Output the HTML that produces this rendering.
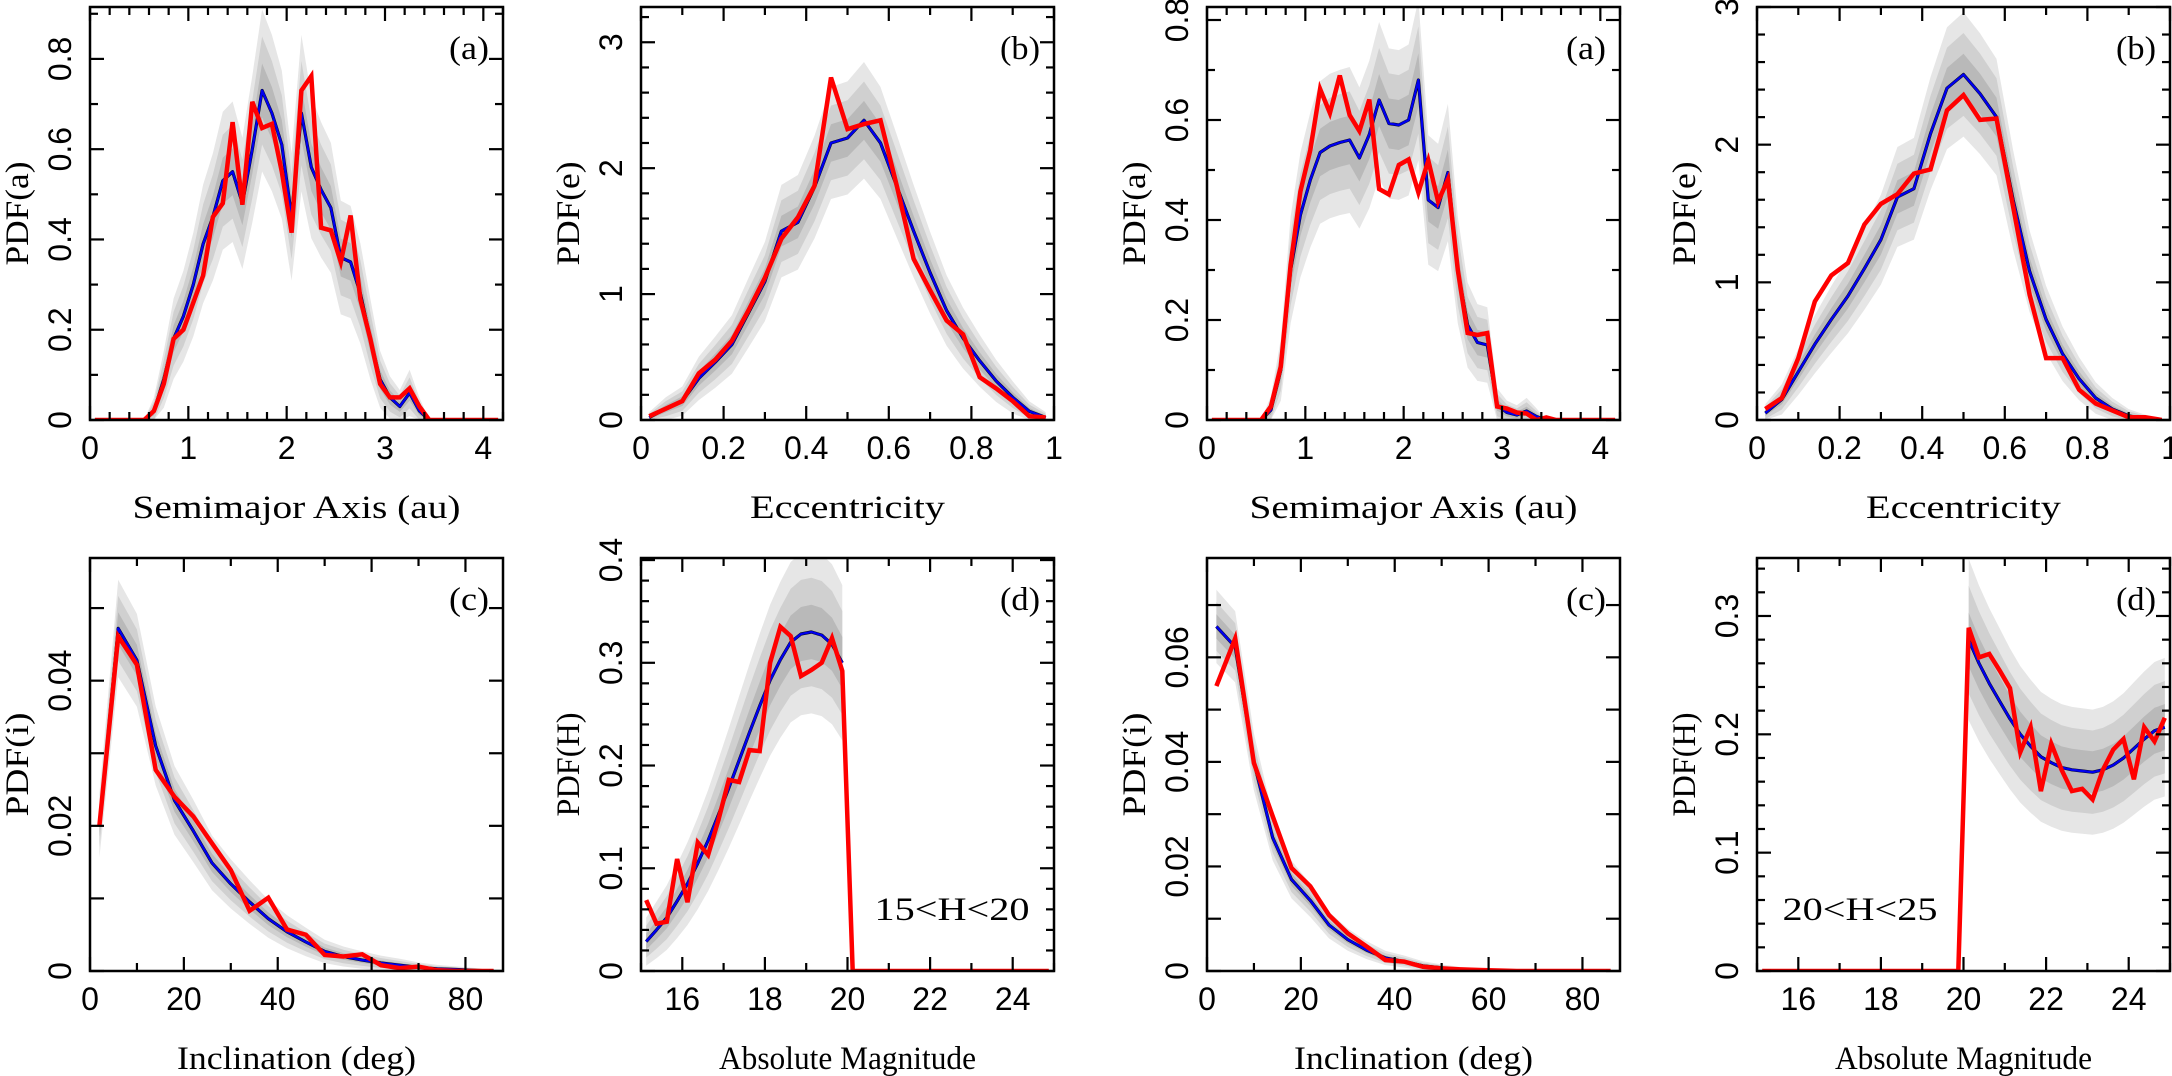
<!DOCTYPE html>
<html><head><meta charset="utf-8">
<style>
html,body{margin:0;padding:0;background:#fff;}
svg{display:block;}
.tk{font-family:"Liberation Sans",sans-serif;font-size:32px;fill:#000;}
.ttl{font-family:"Liberation Serif",serif;font-size:33px;fill:#000;}
</style></head>
<body>
<svg id="fig" width="2172" height="1076" viewBox="0 0 2172 1076" xmlns="http://www.w3.org/2000/svg"></svg>
<script>
// ---- data ----
const p1Red=[0,0,0,0,0,0,0.02,0.08,0.18,0.2,0.26,0.32,0.45,0.48,0.66,0.477,0.705,0.647,0.656,0.55,0.415,0.73,0.762,0.426,0.42,0.35,0.453,0.267,0.18,0.08,0.05,0.05,0.07,0.03,0,0,0,0,0,0,0,0];
const p1Blue=[0,0,0,0,0,0,0.02,0.09,0.18,0.23,0.3,0.39,0.45,0.53,0.55,0.48,0.6,0.73,0.68,0.61,0.45,0.68,0.56,0.51,0.47,0.36,0.35,0.28,0.18,0.09,0.05,0.03,0.06,0.02,0,0,0,0,0,0,0,0];
const p2Red=[0.03,0.09,0.15,0.37,0.48,0.63,0.87,1.13,1.44,1.61,1.86,2.72,2.31,2.35,2.38,1.85,1.28,1.03,0.79,0.68,0.34,0.25,0.15,0.03,0.02];
const p2Blue=[0.02,0.09,0.15,0.33,0.46,0.6,0.85,1.1,1.5,1.57,1.85,2.2,2.24,2.38,2.2,1.85,1.5,1.17,0.87,0.65,0.47,0.31,0.18,0.07,0.02];
const p3Red=[0,0,0,0,0,0,0.027,0.107,0.31,0.457,0.54,0.662,0.614,0.689,0.61,0.578,0.641,0.462,0.451,0.51,0.521,0.455,0.519,0.437,0.481,0.3,0.174,0.17,0.174,0.027,0.023,0.015,0.013,0,0.005,0,0,0,0,0,0,0];
const p3Blue=[0,0,0,0,0,0,0.02,0.1,0.3,0.41,0.48,0.535,0.548,0.555,0.56,0.524,0.571,0.64,0.593,0.59,0.6,0.68,0.44,0.425,0.495,0.3,0.19,0.155,0.15,0.03,0.015,0.01,0.018,0.007,0,0,0,0,0,0,0,0];
const p4Red=[0.08,0.16,0.45,0.86,1.05,1.14,1.42,1.57,1.64,1.79,1.82,2.25,2.36,2.18,2.19,1.55,0.91,0.45,0.45,0.22,0.12,0.07,0.02,0.02,0];
const p4Blue=[0.05,0.15,0.35,0.55,0.73,0.9,1.1,1.31,1.62,1.68,2.08,2.41,2.51,2.37,2.2,1.6,1.08,0.73,0.48,0.3,0.16,0.08,0.03,0.01,0];
const p5Red=[0.02,0.0461,0.0422,0.0277,0.024,0.0213,0.0176,0.0139,0.0083,0.0101,0.0057,0.005,0.0022,0.002,0.0023,0.0008,0.0004,0.0006,0.0001,0,0,0];
const p5Blue=[0.02,0.0472,0.0428,0.031,0.0235,0.0193,0.0149,0.012,0.0095,0.0072,0.0054,0.004,0.0027,0.002,0.0015,0.0011,0.0008,0.0005,0.0003,0.0002,0.0001,0];
const p6Red=[0.069,0.046,0.048,0.109,0.067,0.125,0.113,0.147,0.186,0.184,0.215,0.214,0.3,0.335,0.326,0.287,0.293,0.3,0.324,0.292,0,0,0,0,0,0,0,0,0,0,0,0,0,0,0,0,0,0,0,0];
const p6Blue=[0.0286,0.04,0.052,0.068,0.085,0.105,0.127,0.152,0.178,0.205,0.232,0.258,0.283,0.303,0.32,0.328,0.33,0.327,0.318,0.3,null,null,null,null,null,null,null,null,null,null,null,null,null,null,null,null,null,null,null,null];
const p7Red=[0.0545,0.0636,0.0398,0.0296,0.0197,0.0162,0.0107,0.0072,0.0047,0.0021,0.0018,0.0008,0.0005,0.0003,0.0002,0.0001,0,0,0,0,0,0];
const p7Blue=[0.0659,0.062,0.04,0.0255,0.0175,0.0135,0.0088,0.006,0.004,0.0025,0.0018,0.001,0.0006,0.0003,0.0002,0.0001,0,0,0,0,0,0];
const p8Red=[0,0,0,0,0,0,0,0,0,0,0,0,0,0,0,0,0,0,0,0,0.29,0.265,0.268,0.254,0.239,0.185,0.206,0.152,0.192,0.17,0.152,0.154,0.145,0.17,0.187,0.196,0.162,0.206,0.194,0.214];
const p8Blue=[null,null,null,null,null,null,null,null,null,null,null,null,null,null,null,null,null,null,null,null,0.28,0.26,0.243,0.228,0.213,0.2,0.19,0.181,0.176,0.172,0.17,0.169,0.168,0.17,0.174,0.18,0.188,0.196,0.203,0.206];
// bin centres (categories)
const aBins=[];for(let i=0;i<42;i++)aBins.push(0.05+0.1*i);
const eBins=[];for(let i=0;i<25;i++)eBins.push(0.02+0.04*i);
const iBins=[];for(let i=0;i<22;i++)iBins.push(2+4*i);
const hBins=[];for(let i=0;i<40;i++)hBins.push(15.125+0.25*i);
// tick labels
const aTicks=[0,1,2,3,4];
const eTicks=[0,0.2,0.4,0.6,0.8,1];
const iTicks=[0,20,40,60,80];
const hTicks=[16,18,20,22,24];
const pdfA1Ticks=[0,0.2,0.4,0.6,0.8];
const pdfETicks=[0,1,2,3];
const pdfI1Ticks=[0,0.02,0.04];
const pdfI2Ticks=[0,0.02,0.04,0.06];
const pdfH1Ticks=[0,0.1,0.2,0.3,0.4];
const pdfH2Ticks=[0,0.1,0.2,0.3];

const titleLen={'Semimajor Axis (au)':328,'Eccentricity':195,'Inclination (deg)':239,'Absolute Magnitude':257};

const panels=[
 {n:'a-left',L:90,T:7,xr:[0,4.2],yr:[0,0.915],x:aBins,red:p1Red,blue:p1Blue,c:0.07,xmaj:1,xmin:0.2,xl:aTicks,ymaj:0.2,ymin:0.1,yl:pdfA1Ticks,xt:'Semimajor Axis (au)',yt:'PDF(a)',tag:'(a)'},
 {n:'e-left',L:641,T:7,xr:[0,1],yr:[0,3.28],x:eBins,red:p2Red,blue:p2Blue,c:0.1,xmaj:0.2,xmin:0.1,xl:eTicks,ymaj:1,ymin:0.2,yl:pdfETicks,xt:'Eccentricity',yt:'PDF(e)',tag:'(b)'},
 {n:'a-right',L:1207,T:7,xr:[0,4.2],yr:[0,0.826],x:aBins,red:p3Red,blue:p3Blue,c:0.065,xmaj:1,xmin:0.2,xl:aTicks,ymaj:0.2,ymin:0.1,yl:pdfA1Ticks,xt:'Semimajor Axis (au)',yt:'PDF(a)',tag:'(a)'},
 {n:'e-right',L:1757,T:7,xr:[0,1],yr:[0,3.0],x:eBins,red:p4Red,blue:p4Blue,c:0.095,xmaj:0.2,xmin:0.1,xl:eTicks,ymaj:1,ymin:0.2,yl:pdfETicks,xt:'Eccentricity',yt:'PDF(e)',tag:'(b)'},
 {n:'i-left',L:90,T:558,xr:[0,88],yr:[0,0.0569],x:iBins,red:p5Red,blue:p5Blue,c:0.0103,xmaj:20,xmin:10,xl:iTicks,ymaj:0.01,ymin:0.01,yl:pdfI1Ticks,xt:'Inclination (deg)',yt:'PDF(i)',tag:'(c)'},
 {n:'h-left',L:641,T:558,xr:[15,25],yr:[0,0.402],x:hBins,red:p6Red,blue:p6Blue,c:0.046,xmaj:2,xmin:1,xl:hTicks,ymaj:0.1,ymin:0.02,yl:pdfH1Ticks,xt:'Absolute Magnitude',yt:'PDF(H)',tag:'(d)',note:'15<H<20',nx:952},
 {n:'i-right',L:1207,T:558,xr:[0,88],yr:[0,0.079],x:iBins,red:p7Red,blue:p7Blue,c:0.0091,xmaj:20,xmin:10,xl:iTicks,ymaj:0.01,ymin:0.01,yl:pdfI2Ticks,xt:'Inclination (deg)',yt:'PDF(i)',tag:'(c)'},
 {n:'h-right',L:1757,T:558,xr:[15,25],yr:[0,0.349],x:hBins,red:p8Red,blue:p8Blue,c:0.043,xmaj:2,xmin:1,xl:hTicks,ymaj:0.1,ymin:0.02,yl:pdfH2Ticks,xt:'Absolute Magnitude',yt:'PDF(H)',tag:'(d)',note:'20<H<25',nx:1860}
];
const W=413,H=413;
const NS='http://www.w3.org/2000/svg';
const svg=document.getElementById('fig');
function mk(tag,attrs,parent){const e=document.createElementNS(NS,tag);for(const k in attrs)e.setAttribute(k,attrs[k]);(parent||svg).appendChild(e);return e;}
function fmt(v){return String(+v.toFixed(4));}
panels.forEach((p,pi)=>{
 const g=mk('g',{});
 
 
 const sx=v=>p.L+(v-p.xr[0])/(p.xr[1]-p.xr[0])*W;
 const sy=v=>p.T+H-(v-p.yr[0])/(p.yr[1]-p.yr[0])*H;
 const cp=mk('clipPath',{id:'cp'+pi},g);
 mk('rect',{x:p.L,y:p.T,width:W,height:H},cp);
 const inner=mk('g',{'clip-path':'url(#cp'+pi+')'},g);
 const cols=['#e6e6e6','#d0d0d0','#b9b9b9'];
 [3,2,1].forEach((k,ki)=>{
  const up=[],lo=[];
  p.x.forEach((xv,i)=>{const b=p.blue[i];if(b===null)return;const s=p.c*Math.sqrt(Math.max(b,0));up.push([sx(xv),sy(b+k*s)]);lo.push([sx(xv),sy(Math.max(0,b-k*s))]);});
  const pts=up.concat(lo.reverse()).map(q=>q[0].toFixed(1)+','+q[1].toFixed(1)).join(' ');
  const band=mk('polygon',{points:pts,fill:cols[ki],stroke:'none'},inner);
  
  
 });
 const bp=[];p.x.forEach((xv,i)=>{if(p.blue[i]!==null)bp.push(sx(xv).toFixed(1)+','+sy(p.blue[i]).toFixed(1));});
 mk('polyline',{points:bp.join(' '),fill:'none',stroke:'#000','stroke-width':3.2,'stroke-linejoin':'round'},inner);
 const bl=mk('polyline',{points:bp.join(' '),fill:'none',stroke:'#0000ee','stroke-width':2.4,'stroke-linejoin':'round'},inner);
 
 
 const rp=p.x.map((xv,i)=>sx(xv).toFixed(1)+','+sy(p.red[i]).toFixed(1)).join(' ');
 const rl=mk('polyline',{points:rp,fill:'none',stroke:'#ff0000','stroke-width':4.5,'stroke-linejoin':'miter'},inner);
 
 
 const tg=mk('g',{stroke:'#000','stroke-width':2.2},g);
 const eps=1e-9;
 for(let v=Math.ceil(p.xr[0]/p.xmin-eps)*p.xmin;v<=p.xr[1]+eps;v+=p.xmin){
  const isMaj=Math.abs(v/p.xmaj-Math.round(v/p.xmaj))<1e-6;const len=isMaj?14:8;const X=sx(v);
  mk('line',{x1:X,y1:p.T+H,x2:X,y2:p.T+H-len},tg);mk('line',{x1:X,y1:p.T,x2:X,y2:p.T+len},tg);
 }
 for(let v=Math.ceil(p.yr[0]/p.ymin-eps)*p.ymin;v<=p.yr[1]+eps;v+=p.ymin){
  const isMaj=Math.abs(v/p.ymaj-Math.round(v/p.ymaj))<1e-6;const len=isMaj?14:8;const Y=sy(v);
  mk('line',{x1:p.L,y1:Y,x2:p.L+len,y2:Y},tg);mk('line',{x1:p.L+W,y1:Y,x2:p.L+W-len,y2:Y},tg);
 }
 const fr=mk('rect',{x:p.L,y:p.T,width:W,height:H,fill:'none',stroke:'#000','stroke-width':2.5},g);
 
 
 p.xl.forEach(v=>{const t=mk('text',{x:sx(v),y:p.T+H+28,'text-anchor':'middle','dominant-baseline':'central',class:'tk'},g);t.textContent=fmt(v);
  
  });
 p.yl.forEach(v=>{const X=p.L-30,Y=sy(v);const t=mk('text',{x:X,y:Y,transform:'rotate(-90 '+X+' '+Y+')','text-anchor':'middle','dominant-baseline':'central',class:'tk'},g);t.textContent=fmt(v);
  
  });
 const xt=mk('text',{x:p.L+W/2,y:p.T+H+88,'text-anchor':'middle','dominant-baseline':'central',class:'ttl',textLength:titleLen[p.xt],lengthAdjust:'spacingAndGlyphs'},g);xt.textContent=p.xt;
 
 
 const YX=p.L-72,YY=p.T+H/2;
 const yt=mk('text',{x:YX,y:YY,transform:'rotate(-90 '+YX+' '+YY+')','text-anchor':'middle','dominant-baseline':'central',class:'ttl',textLength:104,lengthAdjust:'spacingAndGlyphs'},g);yt.textContent=p.yt;
 
 
 const tag=mk('text',{x:p.L+W-34,y:p.T+42,'text-anchor':'middle','dominant-baseline':'central',class:'ttl',textLength:40,lengthAdjust:'spacingAndGlyphs'},g);tag.textContent=p.tag;
 
 
 if(p.note){const nt=mk('text',{x:p.nx,y:910,'text-anchor':'middle','dominant-baseline':'central',class:'ttl','font-size':'36',textLength:155,lengthAdjust:'spacingAndGlyphs'},g);nt.textContent=p.note;
  
  }
});
</script>
</body></html>
